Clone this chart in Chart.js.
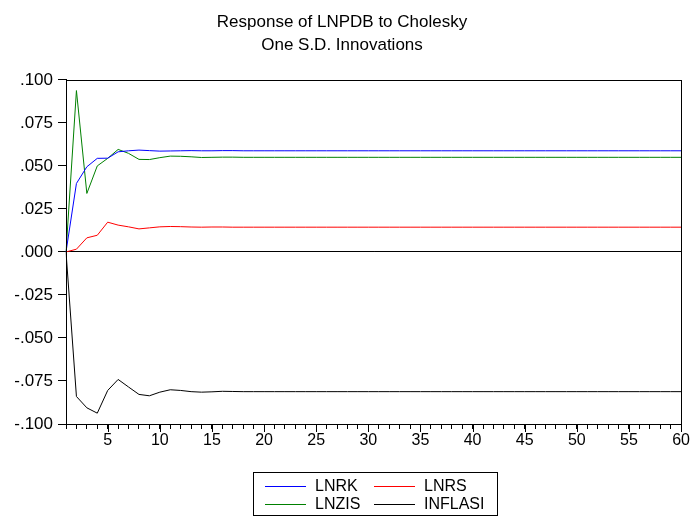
<!DOCTYPE html>
<html>
<head>
<meta charset="utf-8">
<script src="https://cdn.jsdelivr.net/npm/chart.js@4"></script>
<style>
  html, body { margin: 0; padding: 0; background: #fff; }
  #wrap { width: 692px; height: 516px; }
</style>
</head>
<body>
<div id="wrap"><canvas id="myChart" width="692" height="516"></canvas></div>
<script>
// periods 1..60
var periods = [];
for (var i = 1; i <= 60; i++) periods.push(String(i));

var lnrk = [0, 0.0398, 0.0495, 0.0544, 0.0545, 0.0582, 0.0588, 0.0592, 0.0589, 0.0586,
            0.0587, 0.0588, 0.0589, 0.0588, 0.0588, 0.0589, 0.0589, 0.0588, 0.0588, 0.0588,
            0.0588, 0.0588, 0.0588, 0.0588, 0.0588, 0.0588, 0.0588, 0.0588, 0.0588, 0.0588,
            0.0588, 0.0588, 0.0588, 0.0588, 0.0588, 0.0588, 0.0588, 0.0588, 0.0588, 0.0588,
            0.0588, 0.0588, 0.0588, 0.0588, 0.0588, 0.0588, 0.0588, 0.0588, 0.0588, 0.0588,
            0.0588, 0.0588, 0.0588, 0.0588, 0.0588, 0.0588, 0.0588, 0.0588, 0.0588, 0.0588];
var lnrs = [0, 0.0016, 0.0082, 0.0097, 0.0173, 0.0156, 0.0146, 0.0134, 0.0140, 0.0146,
            0.0148, 0.0147, 0.0145, 0.0144, 0.0145, 0.0145, 0.0144, 0.0144, 0.0144, 0.0144,
            0.0144, 0.0144, 0.0144, 0.0144, 0.0144, 0.0144, 0.0144, 0.0144, 0.0144, 0.0144,
            0.0144, 0.0144, 0.0144, 0.0144, 0.0144, 0.0144, 0.0144, 0.0144, 0.0144, 0.0144,
            0.0144, 0.0144, 0.0144, 0.0144, 0.0144, 0.0144, 0.0144, 0.0144, 0.0144, 0.0144,
            0.0144, 0.0144, 0.0144, 0.0144, 0.0144, 0.0144, 0.0144, 0.0144, 0.0144, 0.0144];
var lnzis = [0, 0.0938, 0.0340, 0.0500, 0.0544, 0.0596, 0.0573, 0.0538, 0.0537, 0.0548,
             0.0557, 0.0556, 0.0553, 0.0549, 0.0550, 0.0551, 0.0551, 0.0550, 0.0550, 0.0550,
             0.0550, 0.0550, 0.0550, 0.0550, 0.0550, 0.0550, 0.0550, 0.0550, 0.0550, 0.0550,
             0.0550, 0.0550, 0.0550, 0.0550, 0.0550, 0.0550, 0.0550, 0.0550, 0.0550, 0.0550,
             0.0550, 0.0550, 0.0550, 0.0550, 0.0550, 0.0550, 0.0550, 0.0550, 0.0550, 0.0550,
             0.0550, 0.0550, 0.0550, 0.0550, 0.0550, 0.0550, 0.0550, 0.0550, 0.0550, 0.0550];
var inflasi = [0, -0.0840, -0.0906, -0.0937, -0.0805, -0.0741, -0.0785, -0.0828, -0.0836, -0.0815,
               -0.0801, -0.0805, -0.0812, -0.0815, -0.0813, -0.0810, -0.0811, -0.0812, -0.0812, -0.0812,
               -0.0812, -0.0812, -0.0812, -0.0812, -0.0812, -0.0812, -0.0812, -0.0812, -0.0812, -0.0812,
               -0.0812, -0.0812, -0.0812, -0.0812, -0.0812, -0.0812, -0.0812, -0.0812, -0.0812, -0.0812,
               -0.0812, -0.0812, -0.0812, -0.0812, -0.0812, -0.0812, -0.0812, -0.0812, -0.0812, -0.0812,
               -0.0812, -0.0812, -0.0812, -0.0812, -0.0812, -0.0812, -0.0812, -0.0812, -0.0812, -0.0812];

var FONT = "'Liberation Sans', Arial, sans-serif";

// frame around plot, longer ticks every 5 periods, boxed legend at the bottom
var extras = {
    id: 'extras',
    afterDraw: function(chart) {
        var c = chart.ctx, a = chart.chartArea, xs = chart.scales.x;
        c.save();
        c.strokeStyle = '#000';
        c.lineWidth = 1;
        c.strokeRect(Math.round(a.left) + 0.5, Math.round(a.top) + 0.5,
                     Math.round(a.right - a.left), Math.round(a.bottom - a.top));

        c.beginPath();
        periods.forEach(function(p, i) {
            if (+p % 5 === 0) {
                var px = Math.round(xs.getPixelForValue(i)) + 0.5;
                c.moveTo(px, a.bottom);
                c.lineTo(px, a.bottom + 8);
            }
        });
        c.stroke();

        var bx = 253, by = 472, bw = 244, bh = 43;
        c.strokeRect(bx + 0.5, by + 0.5, bw, bh);
        c.font = '16px ' + FONT;
        c.textBaseline = 'middle';
        c.fillStyle = '#000';
        chart.data.datasets.forEach(function(ds, n) {
            var col = n % 2, row = Math.floor(n / 2);
            var x0 = bx + 12 + col * 109, y0 = by + 14 + row * 18;
            c.strokeStyle = ds.borderColor;
            c.beginPath();
            c.moveTo(x0, y0 + 0.5);
            c.lineTo(x0 + 41, y0 + 0.5);
            c.stroke();
            c.fillText(ds.label, x0 + 50, y0 + 1);
        });
        c.restore();
    }
};

var ctx = document.getElementById('myChart').getContext('2d');
var myChart = new Chart(ctx, {
    type: 'line',
    data: {
        labels: periods,
        datasets: [
            { label: 'LNRK', data: lnrk, borderColor: '#0000ff' },
            { label: 'LNRS', data: lnrs, borderColor: '#ff0000' },
            { label: 'LNZIS', data: lnzis, borderColor: '#008000' },
            { label: 'INFLASI', data: inflasi, borderColor: '#000000' }
        ]
    },
    options: {
        responsive: false,
        animation: false,
        layout: { padding: { left: 0, right: 8, top: 0, bottom: 0 } },
        elements: {
            point: { radius: 0 },
            line: { borderWidth: 1, tension: 0 }
        },
        plugins: {
            legend: { display: false },
            tooltip: { enabled: false },
            title: {
                display: true,
                text: ['Response of LNPDB to Cholesky', 'One S.D. Innovations'],
                color: '#000',
                font: { family: FONT, size: 17, weight: 'normal', lineHeight: 1.35 },
                padding: { top: 11, bottom: 23 }
            }
        },
        scales: {
            x: {
                offset: false,
                border: { display: true, color: '#000' },
                grid: { drawOnChartArea: false, color: '#000', tickLength: 5 },
                ticks: {
                    autoSkip: false,
                    maxRotation: 0,
                    color: '#000',
                    padding: 2,
                    font: { family: FONT, size: 16 },
                    callback: function(v) {
                        var l = this.getLabelForValue(v);
                        return (+l % 5 === 0) ? l : '';
                    }
                },
                afterFit: function(s) { s.height = 92; }
            },
            y: {
                min: -0.1,
                max: 0.1,
                border: { display: true, color: '#000' },
                grid: {
                    color: function(c) { return c.tick && c.tick.value === 0 ? '#000' : 'rgba(0,0,0,0)'; },
                    tickColor: '#000',
                    tickLength: 8
                },
                ticks: {
                    stepSize: 0.025,
                    color: '#000',
                    padding: 5,
                    font: { family: FONT, size: 17 },
                    callback: function(v) {
                        var s = (+v).toFixed(3);
                        return s.replace('0.', '.');
                    }
                },
                afterFit: function(s) { s.width = 66; }
            }
        }
    },
    plugins: [extras]
});
</script>
</body>
</html>
